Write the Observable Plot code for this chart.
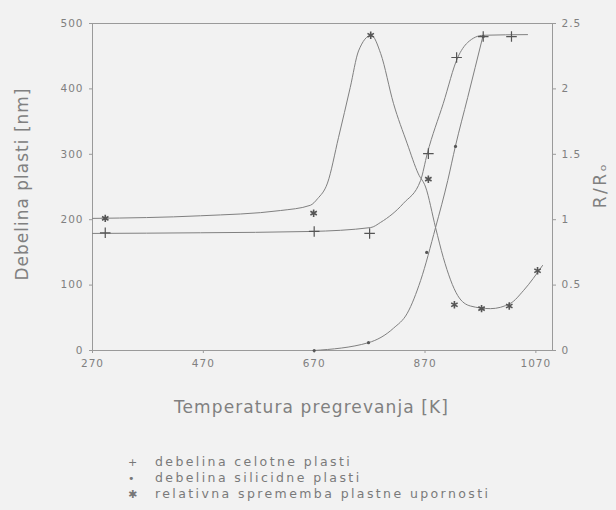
<!DOCTYPE html>
<html><head><meta charset="utf-8">
<script src="https://cdn.jsdelivr.net/npm/d3@7"></script>
<script src="https://cdn.jsdelivr.net/npm/@observablehq/plot@0.6"></script>
<style>
  html,body{margin:0;padding:0;background:#f2f2f2;}
  #chart svg{display:block;}
  #legend{padding-top:24px;padding-left:128px;font-family:"DejaVu Sans",sans-serif;font-size:12.5px;letter-spacing:2.4px;color:#7a7a7a;line-height:15px;}
  #legend .m{display:inline-block;width:27px;color:#777;letter-spacing:0;font-size:11px;}
</style>
</head><body>
<div id="chart"></div>
<div id="legend"></div>
<script>
// Tick values
const xTicks = [270, 470, 670, 870, 1070];
const yTicks = [0, 100, 200, 300, 400, 500];
const rTicks = [0, 0.5, 1, 1.5, 2, 2.5];
const rFactor = 200; // 2.5 (right) <-> 500 (left)

// Measured points (markers)
const totalT = [293, 670, 770, 876, 927, 975, 1026];
const totalV = [180, 182, 179, 301, 448, 480, 480];
const silT = [670, 768, 873, 925, 975];
const silV = [0, 12, 150, 312, 480];
const rT = [293, 669, 772, 876, 923, 972, 1022, 1073];
const rV = [1.01, 1.05, 2.41, 1.31, 0.35, 0.32, 0.34, 0.61];

// Fitted curves
const totalCurveT = [270, 465, 663, 772, 790, 831, 862, 874, 903, 929, 947, 975, 1055];
const totalCurveV = [179, 180, 182, 188, 196, 225, 260, 301, 378, 448, 471, 482, 483];
const silCurveT = [670, 768, 813, 838, 862, 889, 911, 925, 947, 974];
const silCurveV = [0, 12, 34, 57, 107, 188, 260, 313, 387, 479];
const rCurveT = [270, 465, 609, 663, 676, 694, 714, 735, 750, 773, 790, 813, 838, 858, 871, 889, 903, 929, 952, 988, 1024, 1048, 1082];
const rCurveV = [1.01, 1.03, 1.07, 1.11, 1.16, 1.28, 1.63, 2.01, 2.29, 2.41, 2.27, 1.89, 1.58, 1.35, 1.25, 0.94, 0.71, 0.42, 0.34, 0.32, 0.36, 0.46, 0.65];

const xLabel = "Temperatura pregrevanja [K]";
const yLabel = "Debelina plasti [nm]";
const rLabel = "R/Rₒ";
const legendLabels = ["debelina celotne plasti", "debelina silicidne plasti", "relativna sprememba plastne upornosti"];
const legendSymbols = ["+", "•", "✱"];

const zip = (a, b) => a.map((t, i) => ({t, v: b[i]}));
const total = zip(totalT, totalV), sil = zip(silT, silV), rr = zip(rT, rV);
const totalC = zip(totalCurveT, totalCurveV), silC = zip(silCurveT, silCurveV), rC = zip(rCurveT, rCurveV);

const lineCol = "#808080", markCol = "#555", txt = "#808080";

const chart = Plot.plot({
  width: 616, height: 430,
  marginLeft: 92, marginRight: 64, marginTop: 23, marginBottom: 80,
  style: {background: "#f2f2f2", fontFamily: "DejaVu Sans, sans-serif", fontSize: "10.5px", color: txt},
  x: {domain: [270, 1100]},
  y: {domain: [0, 500]},
  marks: [
    Plot.frame({stroke: "#9a9a9a"}),
    Plot.axisX({ticks: xTicks, tickFormat: d => String(d), label: null, tickSize: 3, stroke: "#9a9a9a", fill: txt}),
    Plot.axisY({ticks: yTicks, tickFormat: d => String(d), label: null, tickSize: 3, anchor: "left", stroke: "#9a9a9a", fill: txt}),
    Plot.axisY({ticks: rTicks.map(r => r * rFactor), tickFormat: d => String(d / rFactor), label: null, tickSize: 3, anchor: "right", stroke: "#9a9a9a", fill: txt}),
    Plot.line(totalC, {x: "t", y: "v", curve: "monotone-x", stroke: lineCol, strokeWidth: 1}),
    Plot.line(silC, {x: "t", y: "v", curve: "monotone-x", stroke: lineCol, strokeWidth: 1}),
    Plot.line(rC, {x: "t", y: d => d.v * rFactor, curve: "monotone-x", stroke: lineCol, strokeWidth: 1}),
    Plot.dot(total, {x: "t", y: "v", symbol: "plus", r: 3.5, stroke: markCol, strokeWidth: 1.2}),
    Plot.dot(sil, {x: "t", y: "v", r: 1.6, fill: markCol, stroke: "none"}),
    Plot.dot(rr, {x: "t", y: d => d.v * rFactor, symbol: "asterisk", r: 3.5, stroke: markCol, strokeWidth: 1.6}),
    Plot.text([xLabel], {frameAnchor: "bottom", dy: 62, dx: -11, textAnchor: "middle", fontSize: 17, fill: txt}),
    Plot.text([yLabel], {frameAnchor: "left", dx: -70, dy: -3, rotate: -90, textAnchor: "middle", fontSize: 17, fill: txt}),
    Plot.text([rLabel], {frameAnchor: "right", dx: 48, dy: -2, rotate: -90, textAnchor: "middle", fontSize: 17, fill: txt})
  ]
});
document.getElementById("chart").appendChild(chart);

// letter spacing to mimic the wide lettering of the original
d3.select(chart).selectAll("text").each(function() {
  const t = this.textContent;
  if (t === xLabel) this.style.letterSpacing = "1.1px";
  else if (t === yLabel) this.style.letterSpacing = "1px";
  else if (t === rLabel) this.style.letterSpacing = "2.5px";
  else this.style.letterSpacing = "1px";
});

const leg = document.getElementById("legend");
legendLabels.forEach((lab, i) => {
  const row = document.createElement("div");
  const m = document.createElement("span");
  m.className = "m";
  m.textContent = legendSymbols[i];
  row.appendChild(m);
  row.appendChild(document.createTextNode(lab));
  leg.appendChild(row);
});
</script>
</body></html>
